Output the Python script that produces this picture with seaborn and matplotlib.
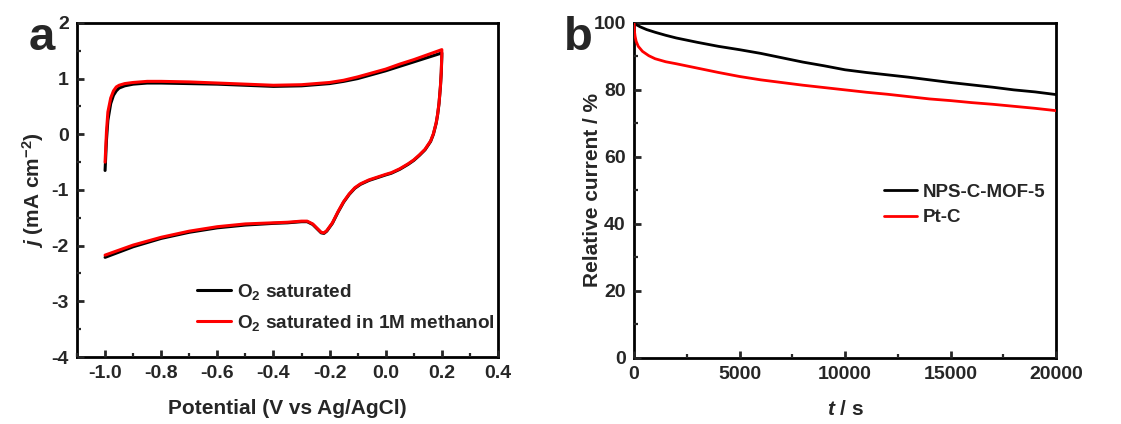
import numpy as np
import pandas as pd
import matplotlib
matplotlib.use("Agg")
import matplotlib.pyplot as plt
import seaborn as sns
from matplotlib.ticker import MultipleLocator

# ---------------- data ----------------
# Panel a: cyclic voltammetry (forward sweep -1.0 -> 0.2 V, reverse 0.2 -> -1.0 V)
cv_potential_fwd = [-1.0, -0.995, -0.99, -0.98, -0.97, -0.96, -0.95, -0.93, -0.9, -0.85,
                    -0.8, -0.7, -0.6, -0.5, -0.4, -0.3, -0.25, -0.2, -0.15, -0.1,
                    -0.05, 0.0, 0.05, 0.1, 0.15, 0.2]
cv_potential_rev = [0.2, 0.198, 0.195, 0.19, 0.185, 0.18, 0.17, 0.16, 0.14, 0.12,
                    0.1, 0.08, 0.05, 0.02, 0.0, -0.03, -0.06, -0.09, -0.11, -0.13,
                    -0.15, -0.17, -0.19, -0.21, -0.22, -0.23, -0.24, -0.26, -0.28, -0.3,
                    -0.35, -0.4, -0.5, -0.6, -0.7, -0.8, -0.9, -1.0]
j_o2_fwd = [-0.65, -0.1, 0.25, 0.55, 0.7, 0.78, 0.83, 0.87, 0.9, 0.92,
            0.92, 0.91, 0.9, 0.88, 0.86, 0.87, 0.89, 0.91, 0.95, 1.0,
            1.07, 1.14, 1.22, 1.3, 1.38, 1.46]
j_o2_rev = [1.4, 1.1, 0.85, 0.55, 0.35, 0.2, 0.0, -0.13, -0.28, -0.38,
            -0.47, -0.54, -0.63, -0.7, -0.73, -0.78, -0.83, -0.9, -0.97, -1.08,
            -1.22, -1.4, -1.6, -1.74, -1.78, -1.77, -1.72, -1.62, -1.57, -1.57,
            -1.59, -1.6, -1.63, -1.68, -1.76, -1.87, -2.02, -2.21]
j_meoh_fwd = [-0.5, 0.05, 0.4, 0.65, 0.78, 0.85, 0.88, 0.91, 0.93, 0.95,
              0.95, 0.94, 0.92, 0.9, 0.88, 0.89, 0.91, 0.93, 0.97, 1.03,
              1.1, 1.17, 1.26, 1.34, 1.43, 1.52]
j_meoh_rev = [1.45, 1.12, 0.86, 0.56, 0.36, 0.21, 0.01, -0.12, -0.27, -0.37,
              -0.46, -0.53, -0.62, -0.69, -0.72, -0.77, -0.82, -0.89, -0.96, -1.07,
              -1.21, -1.39, -1.59, -1.73, -1.77, -1.76, -1.71, -1.61, -1.56, -1.56,
              -1.58, -1.59, -1.61, -1.66, -1.74, -1.85, -1.99, -2.17]
cv_labels = [r"O$_\mathbf{2}$ saturated", r"O$_\mathbf{2}$ saturated in 1M methanol"]

# Panel b: chronoamperometry
t_nps = [0, 100, 300, 600, 1000, 1500, 2000, 3000, 4000, 5000, 6000, 7000, 8000,
         9000, 10000, 11000, 12000, 13000, 14000, 15000, 16000, 17000, 18000, 19000, 20000]
cur_nps = [100, 99.5, 98.8, 98.0, 97.2, 96.3, 95.5, 94.2, 93.0, 92.0, 90.9, 89.6, 88.3,
           87.2, 86.0, 85.2, 84.5, 83.8, 83.0, 82.2, 81.5, 80.8, 80.0, 79.4, 78.6]
t_ptc = [0, 20, 50, 100, 200, 400, 700, 1000, 1500, 2000, 3000, 4000, 5000, 6000,
         7000, 8000, 9000, 10000, 11000, 12000, 13000, 14000, 15000, 16000, 17000,
         18000, 19000, 20000]
cur_ptc = [100, 97.5, 96.0, 94.5, 93.0, 91.5, 90.2, 89.3, 88.4, 87.8, 86.5, 85.2, 84.0,
           83.0, 82.2, 81.4, 80.7, 80.0, 79.3, 78.7, 78.0, 77.3, 76.8, 76.2, 75.7,
           75.1, 74.5, 73.8]
ca_labels = ["NPS-C-MOF-5", "Pt-C"]

# ---------------- style ----------------
sns.set_theme(style="ticks")
plt.rcParams.update({
    "font.family": ["Liberation Sans", "DejaVu Sans"],
    "font.weight": "bold",
    "axes.labelweight": "bold",
    "mathtext.fontset": "custom",
    "mathtext.rm": "Liberation Sans:bold",
    "mathtext.bf": "Liberation Sans:bold",
    "mathtext.it": "Liberation Sans:italic:bold",
    "axes.linewidth": 2.0,
    "xtick.direction": "in",
    "ytick.direction": "in",
    "xtick.major.width": 2.0,
    "ytick.major.width": 2.0,
    "xtick.minor.width": 1.6,
    "ytick.minor.width": 1.6,
    "xtick.major.size": 5,
    "ytick.major.size": 5,
    "xtick.minor.size": 3,
    "ytick.minor.size": 3,
})

fig = plt.figure(figsize=(11.21, 4.24), dpi=100)
ax1 = fig.add_axes([0.0687, 0.158, 0.3755, 0.788])
ax2 = fig.add_axes([0.5656, 0.156, 0.3765, 0.790])

# ---- panel a ----
cv_df = pd.concat([
    pd.DataFrame({"E": cv_potential_fwd + cv_potential_rev,
                  "j": j_o2_fwd + j_o2_rev,
                  "cond": cv_labels[0]}),
    pd.DataFrame({"E": cv_potential_fwd + cv_potential_rev,
                  "j": j_meoh_fwd + j_meoh_rev,
                  "cond": cv_labels[1]}),
])
sns.lineplot(data=cv_df, x="E", y="j", hue="cond", units="cond", estimator=None,
             sort=False, palette=["black", "#ff0000"], linewidth=2.2, ax=ax1)
ax1.set_xlim(-1.1, 0.4)
ax1.set_ylim(-4, 2)
ax1.xaxis.set_minor_locator(MultipleLocator(0.1))
ax1.yaxis.set_minor_locator(MultipleLocator(0.5))
ax1.set_xticks([-1.0, -0.8, -0.6, -0.4, -0.2, 0.0, 0.2, 0.4])
ax1.set_xticklabels(["-1.0", "-0.8", "-0.6", "-0.4", "-0.2", "0.0", "0.2", "0.4"])
ax1.set_yticks([-4, -3, -2, -1, 0, 1, 2])
ax1.set_yticklabels(["-4", "-3", "-2", "-1", "0", "1", "2"])
ax1.set_xlabel("Potential (V vs Ag/AgCl)", fontsize=15, labelpad=12)
ax1.set_ylabel(r"$j$ (mA cm$^{-2}$)", fontsize=15, labelpad=4)
ax1.legend(loc="upper left", bbox_to_anchor=(0.285, 0.225), frameon=False,
           fontsize=13.7, handlelength=1.8, handletextpad=0.3,
           borderpad=0, borderaxespad=0, labelspacing=0.58)
ax1.text(-0.115, 1.02, "a", transform=ax1.transAxes, fontsize=34,
         fontweight="bold", ha="left", va="top")

# ---- panel b ----
ca_df = pd.concat([
    pd.DataFrame({"t": t_nps, "cur": cur_nps, "cat": ca_labels[0]}),
    pd.DataFrame({"t": t_ptc, "cur": cur_ptc, "cat": ca_labels[1]}),
])
sns.lineplot(data=ca_df, x="t", y="cur", hue="cat", estimator=None,
             palette=["black", "#ff0000"], linewidth=2.0, ax=ax2)
ax2.set_xlim(0, 20000)
ax2.set_ylim(0, 100)
ax2.xaxis.set_major_locator(MultipleLocator(5000))
ax2.xaxis.set_minor_locator(MultipleLocator(2500))
ax2.yaxis.set_major_locator(MultipleLocator(20))
ax2.yaxis.set_minor_locator(MultipleLocator(10))
ax2.set_xlabel(r"$t$ / s", fontsize=15, labelpad=12)
ax2.set_ylabel("Relative current / %", fontsize=15, labelpad=-6)
ax2.legend(loc="upper left", bbox_to_anchor=(0.593, 0.52), frameon=False,
           fontsize=13.5, handlelength=1.75, handletextpad=0.3,
           borderpad=0, borderaxespad=0, labelspacing=0.45)
ax2.text(-0.165, 1.02, "b", transform=ax2.transAxes, fontsize=34,
         fontweight="bold", ha="left", va="top")

for ax in (ax1, ax2):
    ax.tick_params(axis="both", which="both", top=False, right=False,
                   labelsize=14, pad=6)
    for lab in ax.get_xticklabels() + ax.get_yticklabels():
        lab.set_fontweight("bold")
    for s in ax.spines.values():
        s.set_visible(True)
        s.set_linewidth(2.0)
        s.set_color("black")
        s.set_zorder(0.5)

fig.savefig("out.png", dpi=100)
